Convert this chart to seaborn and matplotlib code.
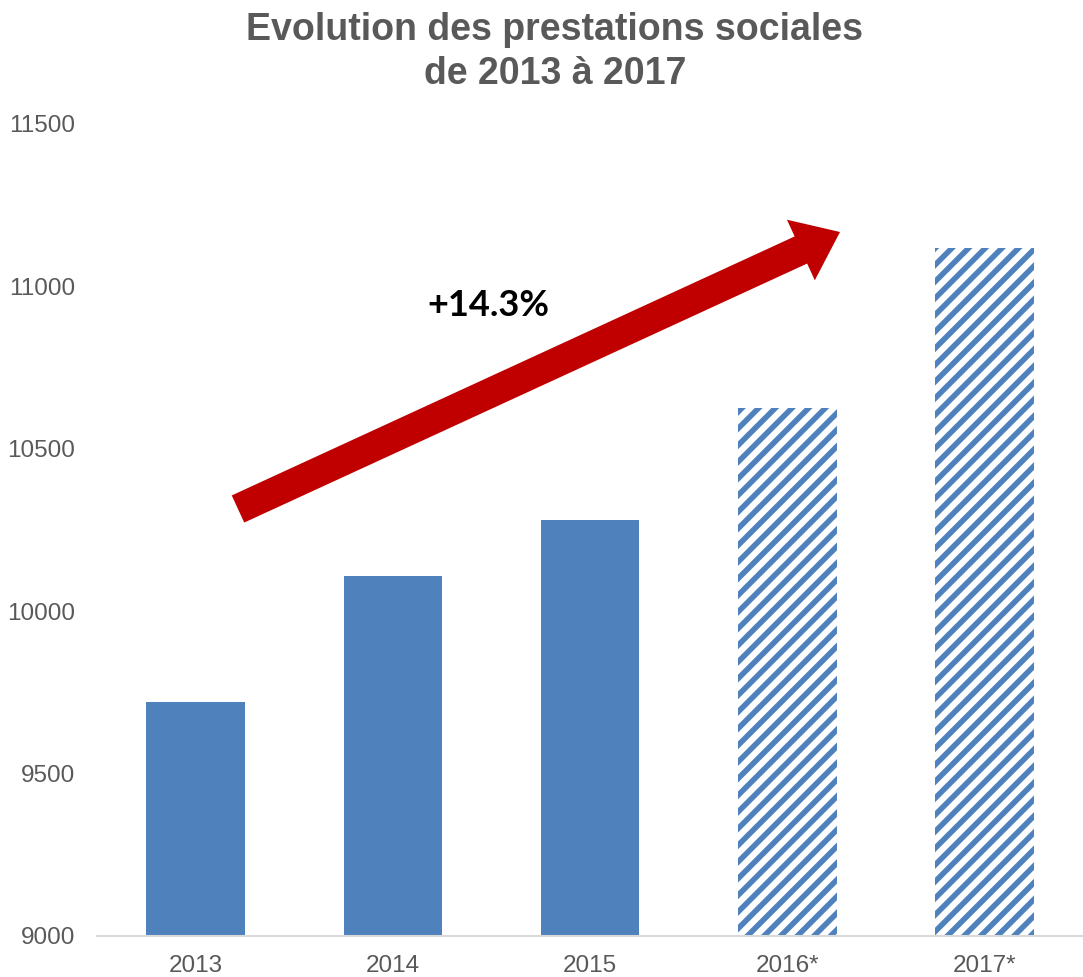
import matplotlib
matplotlib.use("Agg")
import matplotlib.pyplot as plt
import seaborn as sns
import pandas as pd
from matplotlib.patches import FancyArrowPatch

years = ["2013", "2014", "2015", "2016*", "2017*"]
values = [9720, 10108, 10281, 10626, 11118]
forecast = [False, False, False, True, True]
y_ticks = [9000, 9500, 10000, 10500, 11000, 11500]
title = "Evolution des prestations sociales\nde 2013 à 2017"
growth_label = "+14.3%"

sns.set_theme(style="white")
plt.rcParams["font.family"] = ["Liberation Sans", "DejaVu Sans"]
plt.rcParams["hatch.linewidth"] = 4.0

blue = "#4F81BD"
gray = "#595959"

fig = plt.figure(figsize=(10.83, 9.77), dpi=100)
ax = fig.add_axes([97 / 1083, 1 - 936 / 977, (1083 - 97) / 1083, (936 - 124) / 977])

df = pd.DataFrame({"year": years, "value": values})
sns.barplot(data=df, x="year", y="value", color=blue, saturation=1, width=0.5, ax=ax)

for patch, is_fc in zip(ax.patches, forecast):
    patch.set_linewidth(0)
    if is_fc:
        patch.set_facecolor("white")
        patch.set_edgecolor(blue)
        patch.set_hatch("//")

ax.set_ylim(9000, 11500)
ax.set_xlim(-0.5, 4.5)
ax.set_yticks(y_ticks)
ax.set_yticklabels([str(t) for t in y_ticks])
ax.set_xlabel("")
ax.set_ylabel("")
for side in ["top", "right", "left"]:
    ax.spines[side].set_visible(False)
ax.spines["bottom"].set_color("#D9D9D9")
ax.spines["bottom"].set_linewidth(1.5)
ax.tick_params(axis="both", length=0, labelsize=17.5, colors=gray)
ax.tick_params(axis="y", pad=16)
ax.tick_params(axis="x", pad=14)

fig.text(555 / 1083, 1 - 52 / 977, title, ha="center", va="center",
         fontsize=27, fontweight="bold", color=gray, linespacing=1.26)

arrow = FancyArrowPatch((238 / 1083, 1 - 509 / 977), (840 / 1083, 1 - 232 / 977),
                        transform=fig.transFigure,
                        arrowstyle="simple,head_width=48,head_length=31,tail_width=21.5",
                        mutation_scale=1, shrinkA=0, shrinkB=0,
                        facecolor="#C00000", edgecolor="none")
fig.add_artist(arrow)

fig.text(488 / 1083, 1 - 305 / 977, growth_label, ha="center", va="center",
         fontsize=26, fontweight="bold", color="black", family=["Lato", "DejaVu Sans"])

fig.savefig("out.png", dpi=100)
